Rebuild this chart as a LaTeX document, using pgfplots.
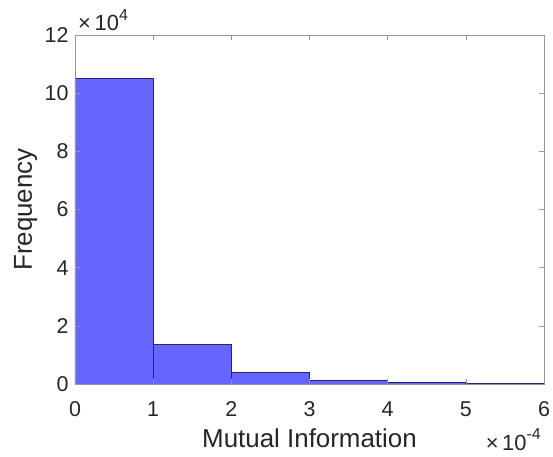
\documentclass[border=0pt]{standalone}
\usepackage{fontspec}
\setmainfont{Liberation Sans}
\usepackage{pgfplots}
\pgfplotsset{compat=1.18}
\definecolor{barfill}{RGB}{102,102,255}
\definecolor{baredge}{RGB}{40,40,100}
\definecolor{axgray}{RGB}{38,38,38}
\definecolor{axline}{RGB}{150,150,150}
\begin{document}
\begin{tikzpicture}
\path[use as bounding box] (-75bp,-73bp) rectangle (478bp,384bp);
\begin{axis}[
  scale only axis, width=469bp, height=349bp,
  xmin=0, xmax=6, ymin=0, ymax=12,
  xtick={0,1,2,3,4,5,6}, ytick={0,2,4,6,8,10,12},
  tick align=inside, major tick length=5bp,
  axis on top, clip mode=individual,
  axis line style={draw=axline, line width=0.6bp},
  tick style={draw=axline, line width=0.6bp},
  /pgf/number format/assume math mode=true,
  ticklabel style={font=\fontsize{21.5}{25}\selectfont, text=axgray},
  xticklabel style={anchor=base, yshift=-32bp},
  yticklabel style={anchor=east, xshift=-3bp},
  xlabel={Mutual Information}, ylabel={Frequency},
  label style={font=\fontsize{26}{30}\selectfont, text=axgray},
  xlabel style={at={(rel axis cs:0.5,0)}, anchor=base, yshift=-63bp},
  ylabel style={at={(rel axis cs:0,0.5)}, anchor=base, yshift=43bp},
]
\addplot[ybar interval, fill=barfill, draw=baredge, line width=0.7bp] coordinates {
  (0,10.5) (1,1.37) (2,0.39) (3,0.11) (4,0.045) (5,0.012) (6,0.012)
};
\node[anchor=base west, font=\fontsize{22}{25}\selectfont, text=axgray, inner sep=0pt]
  at ([xshift=3bp,yshift=4bp]rel axis cs:0,1) {×\,10\raisebox{0.5em}{\fontsize{16}{18}\selectfont 4}};
\node[anchor=base east, font=\fontsize{22}{25}\selectfont, text=axgray, inner sep=0pt]
  at ([xshift=-3bp,yshift=-66bp]rel axis cs:1,0) {×\,10\raisebox{0.5em}{\fontsize{16}{18}\selectfont -4}};
\end{axis}
\end{tikzpicture}
\end{document}
